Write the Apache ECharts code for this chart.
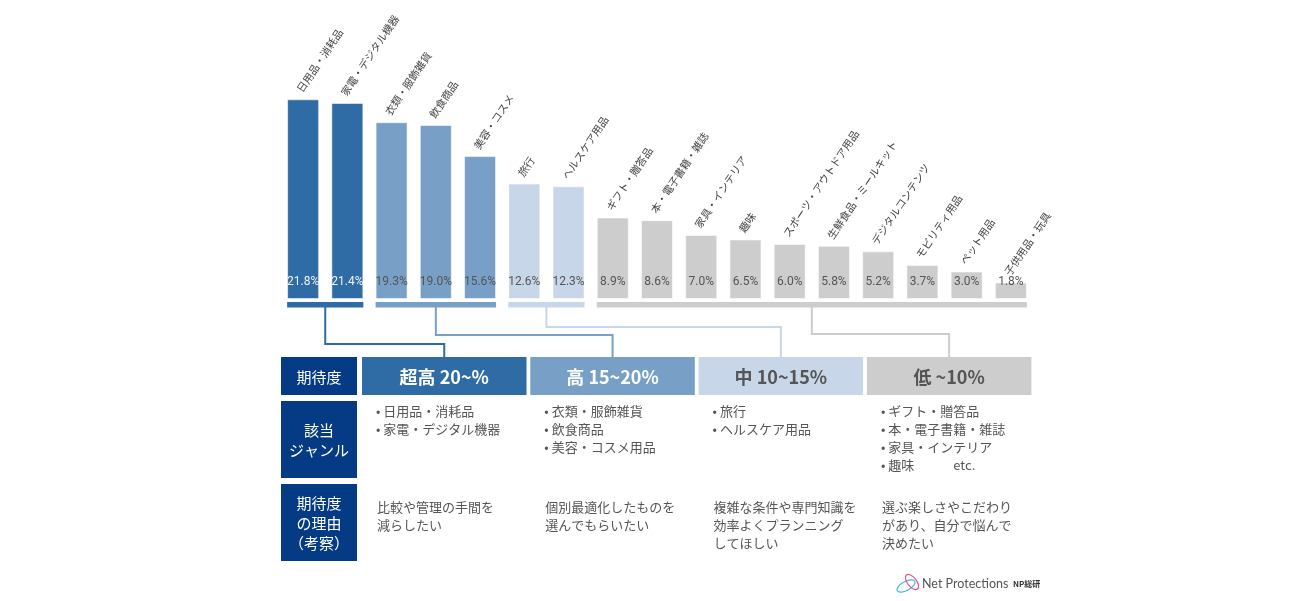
<!DOCTYPE html>
<html>
<head>
<meta charset="utf-8">
<script src="https://cdn.jsdelivr.net/npm/echarts@6/dist/echarts.min.js"></script>
<style>
  html, body { margin: 0; padding: 0; background: #fff; }
  #chart { width: 1300px; height: 601px; }
</style>
</head>
<body>
<div id="chart"></div>
<script>
// ジャンル別の期待度（%）
var categories = ['日用品・消耗品', '家電・デジタル機器', '衣類・服飾雑貨', '飲食商品', '美容・コスメ', '旅行',
  'ヘルスケア用品', 'ギフト・贈答品', '本・電子書籍・雑誌', '家具・インテリア', '趣味', 'スポーツ・アウトドア用品',
  '生鮮食品・ミールキット', 'デジタルコンテンツ', 'モビリティ用品', 'ペット用品', '子供用品・玩具'];
var values = [21.8, 21.4, 19.3, 19.0, 15.6, 12.6, 12.3, 8.9, 8.6, 7.0, 6.5, 6.0, 5.8, 5.2, 3.7, 3.0, 1.8];

// 期待度のグループ
var tierNames = ['超高 20~%', '高 15~20%', '中 10~15%', '低 ~10%'];
var tierFirst = [0, 2, 5, 7];
var tierLast = [1, 4, 6, 16];
var tierGenres = [
  ['日用品・消耗品', '家電・デジタル機器'],
  ['衣類・服飾雑貨', '飲食商品', '美容・コスメ用品'],
  ['旅行', 'ヘルスケア用品'],
  ['ギフト・贈答品', '本・電子書籍・雑誌', '家具・インテリア', '趣味\u3000\u3000\u3000etc.']
];
var tierReasons = [
  ['比較や管理の手間を', '減らしたい'],
  ['個別最適化したものを', '選んでもらいたい'],
  ['複雑な条件や専門知識を', '効率よくプランニング', 'してほしい'],
  ['選ぶ楽しさやこだわり', 'があり、自分で悩んで', '決めたい']
];
var rowTitles = ['期待度', '該当\nジャンル', '期待度\nの理由\n（考察）'];

var tierColors = ['#2f6ba5', '#789fc6', '#c7d6e8', '#cdcdcd'];
var tierTextColors = ['#ffffff', '#ffffff', '#555555', '#555555'];
var navy = '#053b84';
var jp = '"Noto Sans CJK JP", sans-serif';

var tierOf = function(i) {
  for (var t = 0; t < tierFirst.length; t++) {
    if (i >= tierFirst[t] && i <= tierLast[t]) return t;
  }
  return 3;
};

var chart = echarts.init(document.getElementById('chart'));

var barData = values.map(function(v, i) {
  var t = tierOf(i);
  return {
    value: v,
    itemStyle: { color: tierColors[t] },
    label: { color: t == 0 ? '#eef3f9' : '#555555' }
  };
});

var option = {
  backgroundColor: '#ffffff',
  animation: false,
  grid: { left: 281, right: 267, top: 70, bottom: 302 },
  xAxis: {
    type: 'category',
    data: categories,
    axisLine: { show: false },
    axisTick: { show: false },
    axisLabel: { show: false }
  },
  yAxis: {
    type: 'value',
    min: 0,
    max: 25,
    show: false,
    splitLine: { show: false }
  },
  series: [{
    name: 'value',
    type: 'bar',
    barWidth: 32,
    data: barData,
    itemStyle: { borderColor: 'rgba(255,255,255,0.55)', borderWidth: 1 },
    label: {
      show: true,
      position: 'insideBottom',
      distance: 11,
      fontFamily: 'Roboto, sans-serif',
      fontSize: 12,
      formatter: function(p) { return p.value.toFixed(1) + '%'; }
    }
  }, {
    // カテゴリ名（棒の上に斜め表示）
    name: 'name',
    type: 'bar',
    barWidth: 32,
    barGap: '-100%',
    silent: true,
    data: values,
    itemStyle: { color: 'rgba(0,0,0,0)' },
    label: {
      show: true,
      position: 'top',
      distance: 14,
      offset: [-7, 0],
      rotate: 56,
      align: 'left',
      verticalAlign: 'middle',
      fontFamily: jp,
      fontSize: 10.5,
      color: '#444444',
      formatter: function(p) { return categories[p.dataIndex]; }
    }
  }]
};
chart.setOption(option);

/* グループ線・表・ロゴを描画 */
var buildGraphic = function() {
  var els = [];
  var half = 16;
  var baseY = chart.convertToPixel({ gridIndex: 0 }, [0, 0])[1];

  var colStep = 168.3, colX0 = 362, colW = 164.5;
  var rowY = [357, 401, 484], rowH = [38, 77, 77];
  var elbowY = [344, 335, 327, 334];

  for (var t = 0; t < tierNames.length; t++) {
    var x1 = chart.convertToPixel({ gridIndex: 0 }, [tierFirst[t], 0])[0] - half;
    var x2 = chart.convertToPixel({ gridIndex: 0 }, [tierLast[t], 0])[0] + half;
    var mid = (x1 + x2) / 2;
    var cx = colX0 + t * colStep;
    var target = cx + colW / 2;

    // 下線
    els.push({
      type: 'rect', shape: { x: x1, y: baseY + 3, width: x2 - x1, height: 5.5 },
      style: { fill: tierColors[t] }, silent: true
    });
    // 接続線
    els.push({
      type: 'polyline',
      shape: { points: [[mid, baseY + 8], [mid, elbowY[t]], [target, elbowY[t]], [target, rowY[0]]] },
      style: { stroke: tierColors[t], lineWidth: 2, fill: null }, silent: true
    });
    // 見出しセル
    els.push({
      type: 'rect', shape: { x: cx, y: rowY[0], width: colW, height: rowH[0] },
      style: { fill: tierColors[t] }, silent: true
    });
    els.push({
      type: 'text', x: target, y: rowY[0] + rowH[0] / 2 + 1,
      style: {
        text: tierNames[t], fill: tierTextColors[t], font: 'bold 18px ' + jp,
        align: 'center', verticalAlign: 'middle'
      }, silent: true
    });
    // 該当ジャンル
    els.push({
      type: 'text', x: cx + 14, y: 402,
      style: {
        text: tierGenres[t].map(function(s) { return '• ' + s; }).join('\n'),
        fill: '#555555', font: '13px ' + jp, lineHeight: 18,
        align: 'left', verticalAlign: 'top'
      }, silent: true
    });
    // 理由
    els.push({
      type: 'text', x: cx + 15, y: 498,
      style: {
        text: tierReasons[t].join('\n'),
        fill: '#555555', font: '13px ' + jp, lineHeight: 18,
        align: 'left', verticalAlign: 'top'
      }, silent: true
    });
  }

  // 左の見出し列
  for (var r = 0; r < rowTitles.length; r++) {
    els.push({
      type: 'rect', shape: { x: 281, y: rowY[r], width: 76, height: rowH[r] },
      style: { fill: navy }, silent: true
    });
    els.push({
      type: 'text', x: 281 + 38, y: rowY[r] + rowH[r] / 2 + 1,
      style: {
        text: rowTitles[r], fill: '#ffffff', font: '15px ' + jp, lineHeight: 20,
        align: 'center', verticalAlign: 'middle'
      }, silent: true
    });
  }

  // ロゴ
  els.push({
    type: 'ellipse', shape: { cx: 906, cy: 586, rx: 10, ry: 4.5 }, rotation: 0.5, originX: 906, originY: 586,
    style: { stroke: '#39bde6', lineWidth: 1.2, fill: null }, silent: true
  });
  els.push({
    type: 'ellipse', shape: { cx: 912, cy: 582, rx: 9, ry: 4.5 }, rotation: -0.9, originX: 912, originY: 582,
    style: { stroke: '#e8508f', lineWidth: 1.2, fill: null }, silent: true
  });
  els.push({
    type: 'text', x: 922, y: 584,
    style: { text: 'Net Protections', fill: '#555555', font: '12.5px Lato, sans-serif', verticalAlign: 'middle' },
    silent: true
  });
  els.push({
    type: 'text', x: 1013, y: 584,
    style: { text: 'NP総研', fill: '#333333', font: 'bold 8px ' + jp, verticalAlign: 'middle' },
    silent: true
  });

  chart.setOption({ graphic: { elements: els } });
};
buildGraphic();
</script>
</body>
</html>
